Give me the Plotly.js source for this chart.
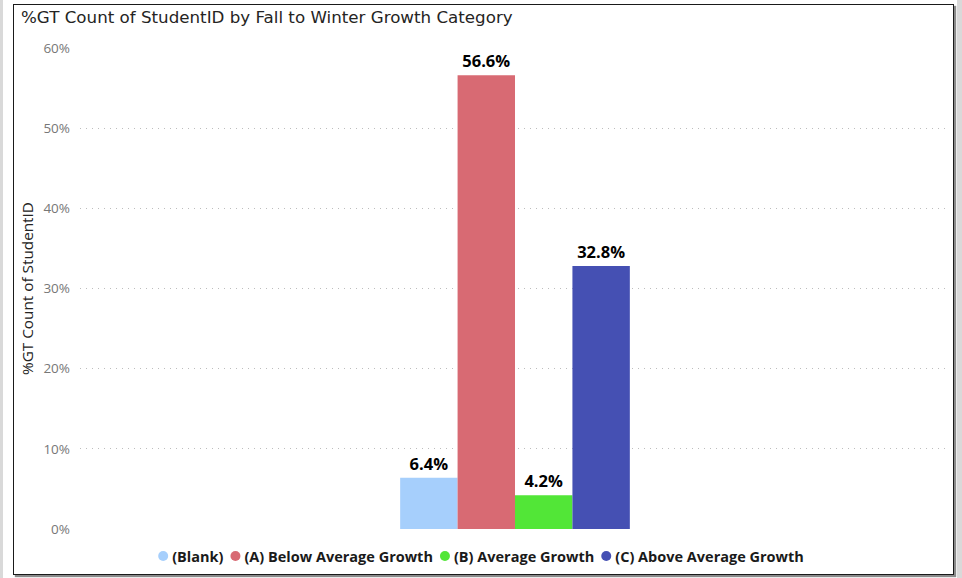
<!DOCTYPE html>
<html>
<head>
<meta charset="utf-8">
<script src="https://cdn.plot.ly/plotly-3.0.1.min.js"></script>
<style>
  html, body { margin: 0; padding: 0; background: #ffffff; }
  #wrap { position: relative; width: 962px; height: 578px; overflow: hidden; background: #ffffff; }
  #chart { position: absolute; left: 0; top: 0; width: 962px; height: 578px; }
  #leftbar { position: absolute; left: 0; top: 0; width: 3px; height: 578px; background: #d9d9d9; pointer-events: none; }
  #rightbar { position: absolute; left: 957px; top: 0; width: 5px; height: 578px; background: #d9d9d9; pointer-events: none; }
  #frame { position: absolute; left: 13px; top: 4px; width: 939px; height: 569px; border: 1.5px solid #1a1a1a;
           box-shadow: 2px 2px 1px #8a8a8a; pointer-events: none; }
</style>
</head>
<body>
<div id="wrap">
  <div id="leftbar"></div>
  <div id="rightbar"></div>
  <div id="chart"></div>
  <div id="frame"></div>
</div>
<script>
const categories = ["(Blank)", "(A) Below Average Growth", "(B) Average Growth", "(C) Above Average Growth"];
const values = [6.4, 56.6, 4.2, 32.8];
const colors = ["#a6cffc", "#d86a73", "#52e637", "#4550b3"];
const yTickVals = [0, 10, 20, 30, 40, 50, 60];
const yTickText = ["0%", "10%", "20%", "30%", "40%", "50%", "60%"];

const traces = categories.map((c, i) => ({
  type: "bar",
  name: c,
  x: ["all"],
  y: [values[i]],
  marker: { color: colors[i] },
  text: [values[i].toFixed(1) + "%"],
  textposition: "outside",
  cliponaxis: false,
  textfont: { family: "Open Sans, DejaVu Sans, sans-serif", size: 16.5, color: "#000000", weight: 700 },
  hoverinfo: "none"
}));

const layout = {
  width: 962,
  height: 578,
  paper_bgcolor: "rgba(0,0,0,0)",
  plot_bgcolor: "rgba(0,0,0,0)",
  margin: { l: 80, r: 12, t: 48, b: 49 },
  barmode: "group",
  bargap: 0.736,
  bargroupgap: 0,
  title: {
    text: "%GT Count of StudentID by Fall to Winter Growth Category",
    x: 21 / 962, xref: "container", xanchor: "left",
    y: 1 - 17 / 578, yref: "container", yanchor: "middle",
    font: { family: "DejaVu Sans, sans-serif", size: 16.7, color: "#252423" }
  },
  xaxis: {
    type: "category",
    showticklabels: false,
    showgrid: false,
    zeroline: false,
    showline: false,
    ticks: "",
    range: [-0.5, 0.5]
  },
  yaxis: {
    range: [0, 60],
    tickvals: yTickVals,
    ticktext: yTickText,
    showgrid: true,
    gridcolor: "#bdbdbd",
    griddash: "1px,5px",
    gridwidth: 1.2,
    zeroline: false,
    showline: false,
    ticks: "",
    ticklabelstandoff: 9,
    tickfont: { family: "Open Sans, DejaVu Sans, sans-serif", size: 13.5, color: "#777777" },
    title: {
      text: "%GT Count of StudentID",
      standoff: 6,
      font: { family: "Open Sans, DejaVu Sans, sans-serif", size: 15.3, color: "#252423" }
    }
  },
  showlegend: true,
  legend: {
    orientation: "h",
    xref: "container", yref: "container",
    x: 0.5, xanchor: "center",
    y: 22 / 578, yanchor: "middle",
    font: { family: "Open Sans, DejaVu Sans, sans-serif", size: 14.5, color: "#1a1a1a", weight: 700 },
    itemwidth: 30,
    tracegroupgap: 0,
    itemclick: false
  }
};

Plotly.newPlot("chart", traces, layout, { displayModeBar: false, staticPlot: true }).then(() => {
  // compact Power BI-style legend: small circle right before each label
  const items = Array.from(document.querySelectorAll(".legend .traces"));
  let pos = 0;
  const y0 = items.length ? (items[0].getAttribute("transform").match(/,\s*([-\d.]+)\)/) || [0, 0])[1] : 0;
  items.forEach((t) => {
    const sym = t.querySelector(".legendpoints path");
    if (sym) {
      sym.setAttribute("d", "M5,0A5,5 0 1,1 -5,0A5,5 0 1,1 5,0Z");
      sym.setAttribute("transform", "translate(31,0)");
    }
    const txt = t.querySelector("text.legendtext");
    const w = txt ? txt.getComputedTextLength() : 100;
    t.setAttribute("transform", "translate(" + pos + "," + y0 + ")");
    pos += w + 21;
  });
  // center the item row on x = 481
  if (items.length) {
    const first = items[0].querySelector(".legendpoints path").getBoundingClientRect();
    const lastTxt = items[items.length - 1].querySelector("text.legendtext").getBoundingClientRect();
    const center = (first.left + lastTxt.right) / 2;
    const shift = 481 - center;
    items.forEach((t) => {
      const m = t.getAttribute("transform").match(/translate\(([-\d.]+),\s*([-\d.]+)\)/);
      t.setAttribute("transform", "translate(" + (parseFloat(m[1]) + shift) + "," + m[2] + ")");
    });
  }
});
</script>
</body>
</html>
